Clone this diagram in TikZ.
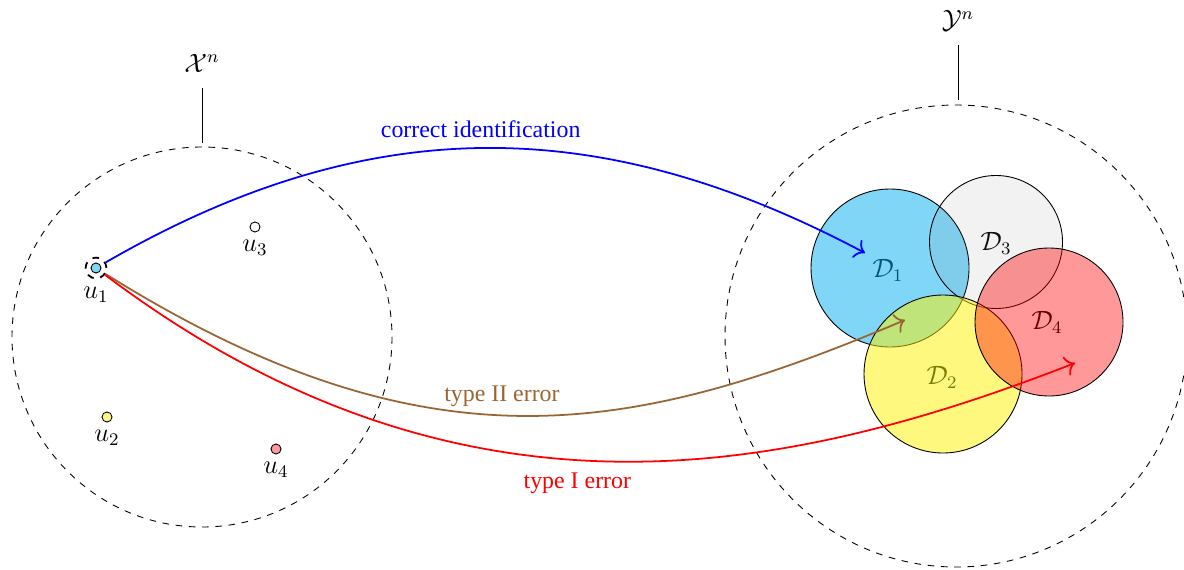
\documentclass[tikz,border=0pt]{standalone}
\usepackage[dvipsnames]{xcolor}
\usepackage{fontspec}
\setmainfont{Liberation Serif}
\usetikzlibrary{positioning,arrows.meta}
\definecolor{arrbrown}{rgb}{0.6,0.4,0.2}
\tikzset{
  pt/.style={circle,draw,inner sep=0pt,minimum size=1.6mm},
  region/.style={draw,fill opacity=0.5},
  arr/.style={-{To[scale=1.3]},thick},
  lab/.style={font=\fontsize{10.8}{13}\selectfont},
}
\begin{document}
\begin{tikzpicture}[x=0.0159cm,y=-0.0159cm,font=\fontsize{12}{14}\selectfont]
                \useasboundingbox (0,0) rectangle (1184,569);
                \draw[dashed] (202,337) circle (190);
                \draw[dashed] (956,336) circle (231);
                \node (Xlab) at (202,63) {$\mathcal{X}^n$};
                \node (Ylab) at (958,21) {$\mathcal{Y}^n$};
                \coordinate (Xa) at (202,88); \coordinate (Xb) at (202,143);
                \coordinate (Ya) at (958,45); \coordinate (Yb) at (958,100);
                \draw (Xa)--(Xb);
                \draw (Ya)--(Yb);
                \node[pt,fill=Cyan!50] (u1) at (96,268) {};
                \node[circle,draw,dashed,thick,minimum size=3.3mm] (u1ring) at (u1) {};
                \node[below=0pt of u1ring] {$u_1$};
                \node[pt,fill=yellow!50,label={[label distance=0pt]below:$u_2$}] (u2) at (107,417) {};
                \node[pt,fill=white,label={[label distance=0pt]below:$u_3$}] (u3) at (255,227) {};
                \node[pt,fill=red!40,label={[label distance=0pt]below:$u_4$}] (u4) at (276,449) {};
                \node (D1) at (888,270) {$\mathcal{D}_1$};
                \node (D3) at (996,243) {$\mathcal{D}_3$};
                \node (D4) at (1047,322) {$\mathcal{D}_4$};
                \node (D2) at (942,377) {$\mathcal{D}_2$};
                \draw[region,fill=Cyan] (890,268) circle (79);
                \draw[region,fill=gray,fill opacity=0.1] (996,242) circle (66.5);
                \draw[region,fill=yellow] (943,374) circle (79);
                \draw[region,fill=red,fill opacity=0.4] (1049,322) circle (74);
                \coordinate (t1) at (865,253);
                \coordinate (t2) at (905,320);
                \coordinate (t4) at (1075,363);
                \draw[arr,blue] (u1ring) .. controls (373,108) and (605,115) .. (t1) node[lab,pos=0.49,above=1pt] {correct identification};
                \draw[arr,arrbrown] (u1ring) .. controls (429,476) and (633,435) .. (t2) node[lab,pos=0.47,above] {type II error};
                \draw[arr,red] (u1ring) .. controls (457,540) and (780,478) .. (t4) node[lab,pos=0.465,below=2pt] {type I error};
            \end{tikzpicture}
\end{document}
